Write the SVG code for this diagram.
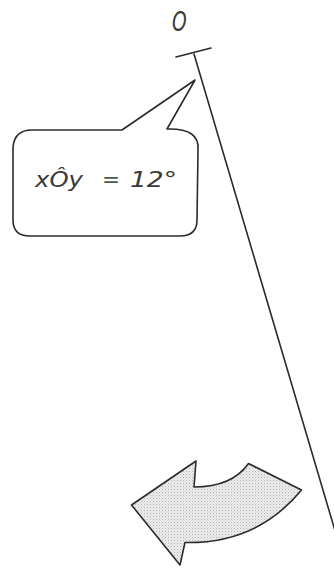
<svg xmlns="http://www.w3.org/2000/svg" width="334" height="568" viewBox="0 0 334 568">
<style>
.ink{fill:none;stroke:#2b2b2b;stroke-width:1.6;stroke-linejoin:round;stroke-linecap:round}
.txt{font-family:"DejaVu Sans",Verdana,sans-serif;font-style:italic;fill:#3a3a3a}
</style>
<defs>
<pattern id="dots" width="3" height="3" patternUnits="userSpaceOnUse">
<rect x="0" y="0" width="1" height="1" fill="#b4b4b4"/>
<rect x="1.5" y="1.5" width="1" height="1" fill="#cacaca"/>
</pattern>
<path id="arrowShape" d="M131.5,505 L196,461 L194,487 Q232,487 248.5,463.5 L301.5,490 Q257,544 185,542.5 L180,565 Z"/>
</defs>
<rect width="334" height="568" fill="#ffffff"/>
<g id="connectors">
<line class="ink" x1="194" y1="54" x2="336" y2="534"/>
<line class="ink" x1="176" y1="57" x2="211" y2="48"/>
</g>
<g id="label-O">
<text class="txt" transform="translate(172,31) scale(0.72,1)" font-size="26">O</text>
</g>
<g id="bubble">
<path class="ink" d="M122,130 L195,80 L167,129 Q200,128 198,150 L197,220 Q197,236 180,236 L30,236 Q13,236 13,220 L13,148 Q14,130 32,130 Z" fill="#ffffff"/>
<text class="txt" font-size="22" y="187"><tspan x="35" textLength="48" lengthAdjust="spacingAndGlyphs">xÔy</tspan><tspan x="102" textLength="18" lengthAdjust="spacingAndGlyphs" fill="#4a5a4a">=</tspan><tspan x="130" textLength="47" lengthAdjust="spacingAndGlyphs">12°</tspan></text>
</g>
<g id="arrow">
<use href="#arrowShape" fill="#ececec" stroke="none"/>
<use href="#arrowShape" fill="url(#dots)" stroke="none"/>
<use href="#arrowShape" class="ink"/>
</g>
</svg>
